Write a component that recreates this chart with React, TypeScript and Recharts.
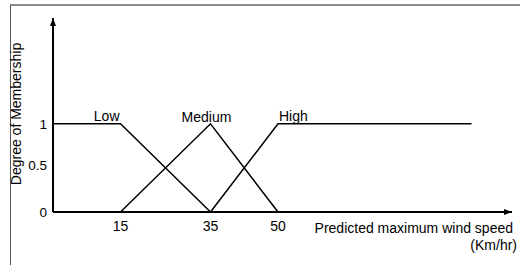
import { LineChart, Line, XAxis, YAxis, LabelList } from "recharts";

// membership breakpoints
const lowSpeed = [0, 15, 35];
const lowDegree = [1, 1, 0];
const mediumSpeed = [15, 35, 50];
const mediumDegree = [0, 1, 0];
const highSpeed = [35, 50, 93];
const highDegree = [0, 1, 1];

const speedTicks = [15, 35, 50];
const degreeTicks = [0, 0.5, 1];

const toRows = (xs: number[], ys: number[]) =>
  xs.map((speed, i) => ({ speed, degree: ys[i] }));

const lowData = toRows(lowSpeed, lowDegree);
const mediumData = toRows(mediumSpeed, mediumDegree);
const highData = toRows(highSpeed, highDegree);

const FONT = "'Liberation Sans', Arial, sans-serif";

const seriesLabel =
  (text: string, at: number, anchor: "start" | "middle" | "end", dx: number, dy: number) =>
  (props: any) => {
    if (props.index !== at) return null;
    return (
      <text
        x={Number(props.x) + dx}
        y={Number(props.y) + dy}
        textAnchor={anchor}
        fontSize={14}
        fontFamily={FONT}
        fill="#000"
      >
        {text}
      </text>
    );
  };

// the 0.5 label sits a little higher than its gridline in the original
const degreeTick = (props: any) => {
  const v = props.payload.value;
  const whole = Number.isInteger(v);
  return (
    <text
      x={props.x + 2}
      y={props.y + (whole ? 0 : -3)}
      dy="0.355em"
      textAnchor="end"
      fontSize={13.5}
      fontFamily={FONT}
      fill="#000"
    >
      {v}
    </text>
  );
};

const xTitle = (props: any) => {
  const vb = props.viewBox;
  const right = vb.x + vb.width;
  return (
    <text fontSize={14} fontFamily={FONT} fill="#000" textAnchor="end">
      <tspan x={right + 1} y={vb.y + 21}>
        Predicted maximum wind speed
      </tspan>
      <tspan x={right + 5} y={vb.y + 38}>
        (Km/hr)
      </tspan>
    </text>
  );
};

const yTitle = (props: any) => {
  const vb = props.viewBox;
  const cx = vb.x + 16;
  const cy = vb.y + vb.height / 2 - 1;
  return (
    <text
      x={cx}
      y={cy}
      transform={`rotate(-90, ${cx}, ${cy})`}
      textAnchor="middle"
      dominantBaseline="central"
      fontSize={14}
      fontFamily={FONT}
      fill="#000"
    >
      Degree of Membership
    </text>
  );
};

export default function App() {
  return (
    <div
      style={{
        position: "absolute",
        left: 0,
        top: 0,
        width: 520,
        height: 265,
        background: "#fff",
        fontFamily: FONT,
      }}
    >
      <div
        style={{
          position: "absolute",
          left: 10,
          top: 4,
          right: 0,
          bottom: 0,
          borderTop: "2px solid #8c8c8c",
          borderLeft: "1px solid #555",
        }}
      />
      <div style={{ position: "absolute", left: 0, top: 0 }}>
        <LineChart width={520} height={265} margin={{ top: 18, right: 8, bottom: 0, left: 0 }}>
          <defs>
            <marker
              id="arrowHead"
              viewBox="0 0 8 8"
              refX={8}
              refY={4}
              markerWidth={8}
              markerHeight={8}
              markerUnits="userSpaceOnUse"
              orient="auto-start-reverse"
            >
              <path d="M0,1 L8,4 L0,7 z" fill="#000" />
            </marker>
          </defs>
          <XAxis
            type="number"
            dataKey="speed"
            domain={[0, 102]}
            ticks={speedTicks}
            interval={0}
            height={53}
            tickLine={false}
            tickSize={6}
            tickMargin={3}
            tick={{ fill: "#000", fontSize: 14, fontFamily: FONT }}
            axisLine={{ stroke: "#000", strokeWidth: 2, markerEnd: "url(#arrowHead)" }}
            label={{ content: xTitle }}
          />
          <YAxis
            type="number"
            dataKey="degree"
            domain={[0, 2.2]}
            ticks={degreeTicks}
            interval={0}
            width={53}
            tickLine={false}
            tick={degreeTick}
            axisLine={{ stroke: "#000", strokeWidth: 2, markerStart: "url(#arrowHead)" }}
            label={{ content: yTitle }}
          />
          <Line
            data={lowData}
            dataKey="degree"
            name="Low"
            type="linear"
            stroke="#000"
            strokeWidth={1.5}
            dot={false}
            isAnimationActive={false}
          >
            <LabelList dataKey="degree" content={seriesLabel("Low", 1, "end", -1, -3)} />
          </Line>
          <Line
            data={mediumData}
            dataKey="degree"
            name="Medium"
            type="linear"
            stroke="#000"
            strokeWidth={1.5}
            dot={false}
            isAnimationActive={false}
          >
            <LabelList dataKey="degree" content={seriesLabel("Medium", 1, "middle", -4, -2)} />
          </Line>
          <Line
            data={highData}
            dataKey="degree"
            name="High"
            type="linear"
            stroke="#000"
            strokeWidth={1.5}
            dot={false}
            isAnimationActive={false}
          >
            <LabelList dataKey="degree" content={seriesLabel("High", 1, "start", 1, -3)} />
          </Line>
        </LineChart>
      </div>
    </div>
  );
}
